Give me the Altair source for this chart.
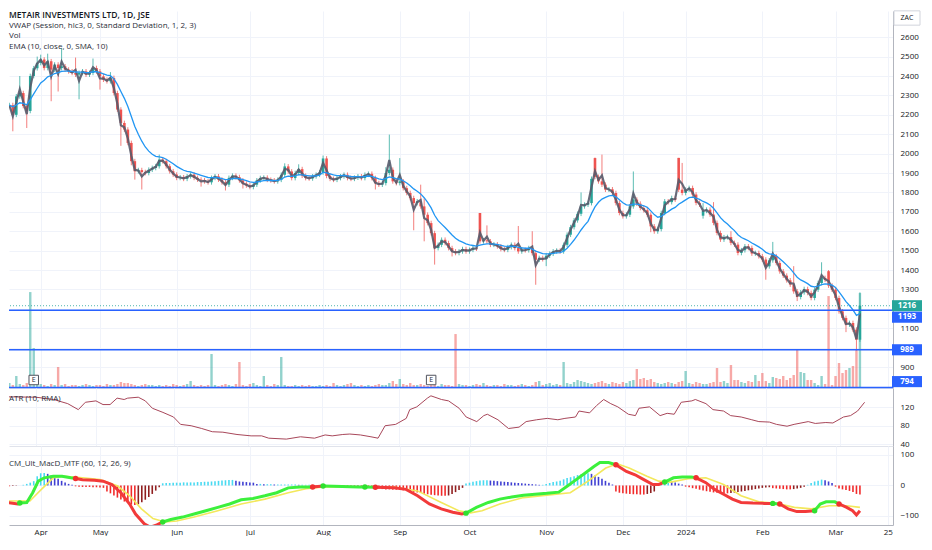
import altair as alt
import pandas as pd

# ---------------- data ----------------
closes = [
    2250, 2200, 2295, 2312, 2245, 2220, 2400, 2440, 2467, 2485,
    2441, 2476, 2433, 2459, 2441, 2450, 2433, 2424, 2416, 2407,
    2416, 2424, 2407, 2416, 2441, 2424, 2398, 2381, 2373, 2390,
    2312, 2227, 2158, 2124, 2055, 1961, 1909, 1915, 1905, 1900,
    1917, 1926, 1935, 1969, 1961, 1935, 1909, 1892, 1875, 1878,
    1870, 1883, 1892, 1875, 1866, 1863, 1857, 1852, 1875, 1883,
    1866, 1852, 1840, 1875, 1886, 1879, 1862, 1845, 1836, 1828,
    1840, 1862, 1874, 1876, 1865, 1862, 1857, 1865, 1891, 1934,
    1908, 1874, 1900, 1920, 1886, 1874, 1872, 1883, 1891, 1903,
    1975, 1885, 1870, 1865, 1874, 1883, 1891, 1874, 1870, 1876,
    1883, 1874, 1891, 1896, 1874, 1848, 1840, 1848, 1900, 1917,
    1857, 1848, 1857, 1822, 1797, 1771, 1745, 1754, 1728, 1685,
    1642, 1590, 1513, 1530, 1556, 1539, 1513, 1496, 1488, 1496,
    1508, 1496, 1504, 1513, 1510, 1548, 1553, 1548, 1530, 1532,
    1522, 1508, 1504, 1518, 1530, 1513, 1496, 1504, 1502, 1513,
    1487, 1453, 1462, 1456, 1474, 1484, 1496, 1500, 1496, 1530,
    1582, 1621, 1656, 1690, 1728, 1737, 1745, 1870, 1880, 1857,
    1840, 1814, 1816, 1797, 1745, 1694, 1677, 1685, 1728, 1763,
    1742, 1720, 1708, 1685, 1625, 1599, 1611, 1694, 1754, 1750,
    1771, 1763, 1814, 1797, 1814, 1823, 1789, 1746, 1737, 1705,
    1711, 1686, 1643, 1591, 1557, 1569, 1570, 1540, 1531, 1488,
    1502, 1522, 1514, 1485, 1488, 1471, 1454, 1419, 1450, 1471,
    1436, 1393, 1371, 1347, 1325, 1290, 1261, 1285, 1302, 1282,
    1256, 1299, 1333, 1359, 1350, 1320, 1299, 1256, 1187, 1153,
    1119, 1127, 1093, 1041, 1216,
]
open_gaps = {135: 1694, 168: 1977, 192: 1978, 199: 1680, 235: 1394}
high_marks = {3: 2400, 8: 2500, 9: 2510, 11: 2515, 15: 2545, 19: 2495, 24: 2490,
              29: 2420, 43: 1995, 79: 1950, 83: 1945, 90: 1990, 108: 1930,
              109: 2098, 112: 1977, 118: 1840, 119: 1770, 135: 1694, 137: 1630,
              146: 1627, 150: 1600, 164: 1800, 168: 1980, 170: 1995, 179: 1908,
              192: 1978, 193: 1952, 199: 1745, 202: 1750, 207: 1600, 219: 1545,
              225: 1420, 233: 1440, 235: 1400, 244: 1285}
low_marks = {1: 2115, 5: 2132, 12: 2270, 14: 2320, 20: 2280, 26: 2330, 32: 2040,
             35: 1940, 36: 1866, 38: 1815, 55: 1830, 62: 1810, 67: 1820,
             105: 1815, 116: 1605, 119: 1548, 122: 1428, 127: 1470, 151: 1324,
             154: 1420, 184: 1595, 199: 1665, 217: 1350, 226: 1240, 240: 1080,
             243: 985, 244: 1030}
wick_pad = 12
volume_k = [
    5, 3, 12, 4, 3, 5, 96, 40, 6, 4, 3, 2, 4, 3, 21, 3, 4, 2, 3, 3, 2, 3, 4, 3, 2, 3,
    3, 2, 4, 3, 3, 4, 6, 5, 5, 4, 3, 2, 3, 4, 3,
    3, 2, 3, 2, 3, 2, 4, 3, 2, 3, 4, 7, 3, 2, 3, 2, 3,
    34,
    3, 2, 3, 4, 3, 2, 4,
    26,
    3, 2, 4, 5, 3, 2,
    12,
    3, 2, 4, 3,
    31,
    3, 2, 2, 3, 2, 3, 2, 3, 2, 2, 3, 2,
    3, 2, 5, 3, 2, 3, 4, 5, 3, 2, 3, 2, 3, 2, 3, 4, 3, 3, 5, 7, 4, 9, 4, 3, 5, 3, 3, 4, 3, 2, 3, 3, 2, 4, 3, 3, 2,
    54,
    4, 3, 3, 2, 3, 4, 3, 5, 3, 2, 3, 3, 2, 4, 3, 3, 2, 3, 4, 3, 2, 3, 6, 7, 3, 4, 5, 3, 4, 3,
    26,
    5, 4, 6, 8, 7, 6, 5, 4, 5, 6, 7, 5, 4, 6, 5, 4,
    6, 5, 7, 8, 19, 9, 10, 8, 9, 6, 5, 4, 5, 6, 5, 4, 6, 7, 17, 5, 4, 6, 5, 4,
    4, 5, 6, 20, 6, 7, 5, 23, 8, 8, 6, 5, 7, 6, 13, 7, 15, 7, 5, 11, 10, 9, 12, 8, 10,
    13, 38, 16, 15, 8, 8, 5, 3, 12, 4, 92, 3, 12, 25, 15, 18, 20, 22, 38, 95,
]
earnings_idx = [7, 121]
level_lines = [1193, 989, 794]
last_price = 1216

atr_idx = [-1, 9, 14, 18, 21, 23, 26, 28, 30, 32, 34, 35, 38, 40, 42, 45, 48, 50, 53, 56,
           59, 62, 66, 70, 73, 75, 80, 84, 88, 91, 93, 96, 98, 101, 104, 106, 108, 111, 114, 115,
           117, 120, 121, 124, 126, 129, 131, 134, 136, 137, 140, 143, 146, 148, 151, 154, 157, 159, 162, 163,
           166, 168, 170, 172, 174, 177, 179, 180, 183, 186, 188, 190, 192, 195, 196, 199, 201, 204, 206, 209,
           212, 214, 217, 219, 222, 224, 228, 230, 233, 235, 238, 240, 242, 244]
atr_val = [143, 142, 137, 128, 115, 131, 134, 126, 126, 140, 137, 140, 142, 134, 118, 109, 99, 83, 80, 74,
           67, 66, 61, 58, 58, 53, 51, 56, 53, 60, 58, 61, 62, 60, 56, 53, 80, 83, 96, 115,
           121, 140, 145, 137, 134, 118, 99, 89, 102, 105, 93, 74, 77, 89, 93, 96, 93, 96, 99, 112,
           108, 124, 137, 128, 121, 105, 102, 118, 121, 102, 107, 105, 131, 134, 137, 128, 115, 112, 102, 99,
           93, 89, 88, 83, 79, 83, 89, 85, 87, 86, 99, 102, 112, 131]

macd_idx = [-0.9, 2.4, 5, 6.7, 8.3, 10, 12.6, 15.1, 17.6, 21, 24.4, 26.9, 29.4, 32, 34.5,
            36.2, 38.7, 40.4, 42.1, 46.3, 49.7, 53, 56.4, 59.8, 63.2, 66.5, 69.9, 73.3, 76.7, 80,
            83.4, 93, 100.3, 110.4, 113.8, 117.1, 120.5, 123.9, 127.2, 129.8, 134, 137.4, 140.7, 144.1, 147.5,
            150.8, 154.2, 157.6, 160.1, 162.6, 165.2, 167.7, 169.4, 171.9, 177, 179.5, 182, 184.6, 186.3, 190.5,
            193, 195.6, 199.8, 202.3, 204.9, 207.4, 209.9, 213.3, 216.6, 223.4, 225.9, 228.4, 232.6, 234.3, 236.8,
            240.2, 241.9, 243, 244]
macd_val = [-56, -61, -56, -24, 14, 25, 30, 30, 25, 19, 17, 14, 3, -24, -61,
            -94, -126, -137, -131, -112, -104, -94, -83, -72, -61, -47, -43, -34, -24, -8,
            -5, -3, -5, -8, -13, -34, -61, -77, -88, -94, -72, -56, -45, -38, -32,
            -29, -26, -22, -2, 19, 41, 62, 75, 75, 46, 35, 19, 3, 3, 25,
            28, 28, 9, -13, -29, -45, -56, -58, -59, -77, -86, -86, -61, -54, -54,
            -72, -83, -97, -83]
signal_idx = [-0.9, 5.9, 9.2, 12.6, 15.9, 21, 26, 31.1, 34.5, 37.9, 41.2, 44.6, 48, 53, 59.8,
              66.5, 73.3, 80, 85.1, 90.2, 100.3, 110.4, 117.1, 123.9, 128.9, 132.3, 135.6, 140.7, 147.5, 154.2,
              160.9, 166, 171.1, 174.4, 177.8, 182.9, 186.3, 189.7, 194.7, 199.8, 204.9, 209.9, 215, 220.1, 225.2,
              230.1, 235.2, 240.2, 244]
signal_val = [-51, -51, -13, 25, 30, 25, 19, -2, -34, -77, -109, -120, -117, -104, -83,
              -61, -45, -24, -11, -5, -5, -5, -18, -56, -83, -90, -83, -61, -40, -32,
              -24, 14, 57, 71, 57, 30, 14, 11, 22, 25, 3, -34, -54, -59, -72,
              -77, -67, -67, -72]
cross_idx = [3, 19, 44, 87, 90, 102, 105, 131, 174, 188, 197, 219, 221, 231, 238]
cross_val = [-58, 23, -120, -5, -2, -5, -6, -91, 68, 11, 25, -59, -61, -83, -61]
cross_dir = ["up", "down", "up", "down", "up", "up", "down", "up", "down", "up", "down", "up", "down", "up", "down"]
hist = [
    -3, -2, -1, 0, 2, 5, 9, 14,
    30, 40, 41, 38, 33, 27, 22, 15, 10, 5, 2,
    -3, -4, -5, -5, -5, -6, -6, -7, -8,
    -20, -26, -33, -40, -46, -53, -58, -63, -64, -62, -55, -47, -38, -28, -17, -6,
    7, 8, 8, 9, 9, 9, 10, 10, 10,
    10, 11, 11, 12, 12, 13, 14, 15,
    16, 17, 18, 18,
    15, 13, 12, 11, 10, 9,
    5, 5, 4, 4, 4, 3, 3, 3, 3, 3, 3, 3, 2, 2, 2, 2, 1,
    -3, -4, -4, -4, -5, -5, -5, -4, -4, -5, -5, -6,
    -5, -6, -6, -7, -8, -9,
    -10, -12, -13, -13, -14, -14, -15, -16, -17, -19, -21, -23, -25, -27, -29, -31, -32, -33, -34, -34, -33, -28, -22, -15, -8,
    6, 9, 12, 14, 16, 17, 17, 16, 15, 14, 13, 12, 11, 10, 9, 8, 7, 6, 5, 4,
    3, 2, 2,
    5, 8, 11, 13, 15, 20, 24, 27, 30, 34, 37, 39, 40, 38, 33, 28, 22, 15, 9, 3,
    -20, -24, -26, -27, -28, -29, -29, -30, -30, -28, -25,
    -20,
    8, 12, 14, 14, 12, 10, 6, 3,
    -4, -6, -9, -11, -14, -17, -19, -21, -23, -24, -25, -26, -26, -25, -24, -22, -20,
    -18, -16, -14, -12, -10, -8, -7, -6,
    -9, -10, -11, -12, -13, -13, -12, -10, -8,
    -4, 2, 8, 13, 15, 19, 17, 13, 8,
    -4, -10, -13, -15, -18, -22, -28, -30,
]
month_idx = [9, 26, 48, 69, 90, 112, 132, 154, 176, 194, 216, 237, 252]
month_lbl = ["Apr", "May", "Jun", "Jul", "Aug", "Sep", "Oct", "Nov", "Dec", "2024", "Feb", "Mar", "25"]
price_ticks = list(range(900, 2700, 100))
hidden_price_labels = [1200, 1000]  # covered by the price tags in the reference

# ---------------- styles ----------------
UP, DOWN, BLUE = "#26a69a", "#ef5350", "#2962ff"
FONT = "Open Sans"
GRID = "#f0f3fa"
W = 884
XDOM = [1.34, 252.05]
TAGX = 898

n = len(closes)
opens = [closes[0]] + closes[:-1]
for k, v in open_gaps.items():
    opens[k] = v
highs, lows = [], []
for i in range(n):
    top, bot = max(opens[i], closes[i]), min(opens[i], closes[i])
    highs.append(max(high_marks.get(i, top + wick_pad), top))
    lows.append(min(low_marks.get(i, bot - wick_pad), bot))

df = pd.DataFrame({"i": list(range(n)), "open": opens, "close": closes,
                   "high": highs, "low": lows, "vol": volume_k[:n]})
df["dir"] = ["up" if c >= o else "down" for o, c in zip(df.open, df.close)]
df["hlc3"] = (df.high + df.low + df.close) / 3
df["ema"] = df.close.ewm(span=10, adjust=False).mean()

xscale = alt.Scale(domain=XDOM, nice=False, zero=False)
x_top_axis = alt.Axis(values=month_idx, labels=False, ticks=False, grid=True, gridColor=GRID,
                      domain=True, domainColor="#e0e3eb", title=None)
label_expr = "[" + ",".join("'%s'" % m for m in month_lbl) + "][indexof([" + ",".join(str(v) for v in month_idx) + "], datum.value)]"
x_bottom_axis = alt.Axis(values=month_idx, labelExpr=label_expr, ticks=False, grid=True, gridColor=GRID,
                         domain=True, domainColor="#b2b5be", title=None, labelFont=FONT, labelFontSize=8,
                         labelColor="#131722", labelPadding=3, labelFlush=False, labelOverlap=False)


def yaxis(vals, hide=None):
    kw = {}
    if hide:
        kw["labelExpr"] = "indexof([" + ",".join(str(h) for h in hide) + "], datum.value) >= 0 ? '' : datum.label"
    return alt.Axis(orient="right", values=vals, format="d", labelOverlap=False, grid=True, gridColor=GRID,
                    ticks=False, domain=True, domainColor="#b2b5be", labelColor="#131722", labelFont=FONT,
                    labelFontSize=8, labelPadding=7, title=None, **kw)


price_axis = yaxis(price_ticks, hidden_price_labels)
dir_color = alt.Color("dir:N", scale=alt.Scale(domain=["up", "down"], range=[UP, DOWN]), legend=None)
py = alt.Scale(domain=[792, 2735], nice=False, zero=False)
X = alt.X("i:Q", scale=xscale, axis=x_top_axis)


def PY(field):
    return alt.Y(field, scale=py, axis=price_axis)


base = alt.Chart(df)
vol_layer = base.mark_bar(size=2.4, opacity=0.5, clip=True).encode(
    x=X, y=alt.Y("vol:Q", scale=alt.Scale(domain=[0, max(volume_k) * 3.93], nice=False), axis=None),
    color=dir_color)

wicks = base.mark_rule(strokeWidth=1, opacity=0.75, clip=True).encode(
    x=X, y=PY("low:Q"), y2="high:Q", color=dir_color)
bodies = base.mark_bar(size=2.6, clip=True).encode(
    x=X, y=PY("open:Q"), y2="close:Q", color=dir_color)
vwap = base.mark_line(color="#585b6b", strokeWidth=2.2, opacity=0.9, clip=True).encode(
    x=X, y=PY("hlc3:Q"))
ema = base.mark_line(color="#2196f3", strokeWidth=1.3, clip=True).encode(
    x=X, y=PY("ema:Q"))
levels = alt.Chart(pd.DataFrame({"lvl": level_lines})).mark_rule(color=BLUE, strokeWidth=1.5).encode(
    y=PY("lvl:Q"))
last_line = alt.Chart(pd.DataFrame({"lvl": [last_price]})).mark_rule(
    color=UP, strokeWidth=1, strokeDash=[1, 2], opacity=0.8).encode(y=PY("lvl:Q"))

tag_path = "M-1,-0.37 L1,-0.37 L1,0.37 L-1,0.37 Z"
tags = []
for val, col, dy in [(last_price, UP, 0), (level_lines[0], BLUE, 7), (level_lines[1], BLUE, 0), (level_lines[2], BLUE, -6)]:
    tdf = pd.DataFrame({"p": [val], "lab": [str(val)]})
    tags.append(alt.Chart(tdf).mark_point(shape=tag_path, filled=True, size=900, color=col, opacity=1,
                                          yOffset=dy).encode(x=alt.value(TAGX), y=PY("p:Q")))
    tags.append(alt.Chart(tdf).mark_text(color="white", font=FONT, fontSize=8, fontWeight="bold",
                                         yOffset=dy).encode(x=alt.value(TAGX), y=PY("p:Q"), text="lab:N"))

zac_box = alt.Chart(pd.DataFrame({"t": ["ZAC"]})).mark_point(
    shape="M-1,-0.55 L1,-0.55 L1,0.55 L-1,0.55 Z", size=676, filled=False, color="#d1d4dc", strokeWidth=1,
    opacity=1).encode(x=alt.value(TAGX), y=alt.value(7))
zac_txt = alt.Chart(pd.DataFrame({"t": ["ZAC"]})).mark_text(font=FONT, fontSize=7, color="#131722").encode(
    x=alt.value(TAGX), y=alt.value(7), text="t:N")

legend_lines = ["METAIR INVESTMENTS LTD, 1D, JSE",
                "VWAP (Session, hlc3, 0, Standard Deviation, 1, 2, 3)",
                "Vol",
                "EMA (10, close, 0, SMA, 10)"]
legend_marks = []
for k, (txt, yy) in enumerate(zip(legend_lines, [4, 15, 25, 36])):
    legend_marks.append(alt.Chart(pd.DataFrame({"t": [txt]})).mark_text(
        font=FONT, fontSize=8.5 if k == 0 else 8, fontWeight=600 if k == 0 else 400,
        color="#131722" if k == 0 else "#2a2e39", align="left", baseline="middle").encode(
        x=alt.value(0), y=alt.value(yy), text="t:N"))

edf = pd.DataFrame({"i": earnings_idx, "t": ["E"] * len(earnings_idx)})
e_box = alt.Chart(edf).mark_point(shape="square", size=90, filled=True, fill="white", stroke="#50535e",
                                  strokeWidth=1, opacity=1).encode(x=X, y=alt.value(369))
e_txt = alt.Chart(edf).mark_text(font=FONT, fontSize=7, color="#2a2e39").encode(x=X, y=alt.value(369), text="t:N")

price_layers = alt.layer(wicks, bodies, vwap, ema, levels, last_line, e_box, e_txt, zac_box, zac_txt,
                         *tags, *legend_marks)
price_panel = alt.layer(vol_layer, price_layers).resolve_scale(y="independent").properties(width=W, height=377)

# ---------------- ATR pane ----------------
atr_df = pd.DataFrame({"i": atr_idx, "v": atr_val})
atr_line = alt.Chart(atr_df).mark_line(color="#a8475a", strokeWidth=1, clip=True).encode(
    x=X, y=alt.Y("v:Q", scale=alt.Scale(domain=[36, 162], nice=False, zero=False), axis=yaxis([40, 80, 120])))
atr_title = alt.Chart(pd.DataFrame({"t": ["ATR (10, RMA)"]})).mark_text(
    font=FONT, fontSize=8, color="#2a2e39", align="left").encode(x=alt.value(0), y=alt.value(11), text="t:N")
atr_panel = alt.layer(atr_line, atr_title).properties(width=W, height=58)

# ---------------- MACD pane ----------------
XB = alt.X("i:Q", scale=xscale, axis=x_bottom_axis)
my = alt.Scale(domain=[-130, 129.5], nice=False, zero=False)
macd_axis = yaxis([-100, 0, 100])


def MY(field):
    return alt.Y(field, scale=my, axis=macd_axis)


hcol = []
for k, h in enumerate(hist):
    prev = hist[k - 1] if k > 0 else 0
    if h >= 0:
        hcol.append("#3fd8f0" if h >= prev else "#3535d0")
    else:
        hcol.append("#f02020" if h <= prev else "#8a1414")
hdf = pd.DataFrame({"i": list(range(len(hist))), "h": hist, "c": hcol})
hist_bars = alt.Chart(hdf).mark_bar(size=1.6, opacity=0.95, clip=True).encode(
    x=XB, y=MY("h:Q"), y2=alt.datum(0), color=alt.Color("c:N", scale=None))

sig_line = alt.Chart(pd.DataFrame({"i": signal_idx, "v": signal_val})).mark_line(
    color="#f3e85c", strokeWidth=1.6, clip=True).encode(x=XB, y=MY("v:Q"))

GREEN_L, RED_L = "#3cf03c", "#f23a3a"
pts = [(a, b, None) for a, b in zip(macd_idx, macd_val)] + \
      [(a, b, d) for a, b, d in zip(cross_idx, cross_val, cross_dir)]
pts.sort(key=lambda p: p[0])
state = "down" if cross_dir[0] == "up" else "up"
seg = 0
rows = []
for a, b, d in pts:
    rows.append({"i": a, "v": b, "seg": seg, "c": GREEN_L if state == "up" else RED_L})
    if d is not None:
        seg += 1
        state = d
        rows.append({"i": a, "v": b, "seg": seg, "c": GREEN_L if state == "up" else RED_L})
macd_line = alt.Chart(pd.DataFrame(rows)).mark_line(strokeWidth=3, clip=True).encode(
    x=XB, y=MY("v:Q"), color=alt.Color("c:N", scale=None), detail="seg:N")
cdf = pd.DataFrame({"i": cross_idx, "v": cross_val,
                    "c": ["#2fe02f" if d == "up" else "#f03030" for d in cross_dir]})
dots = alt.Chart(cdf).mark_circle(size=30, opacity=1).encode(
    x=XB, y=MY("v:Q"), color=alt.Color("c:N", scale=None))
macd_title = alt.Chart(pd.DataFrame({"t": ["CM_Ult_MacD_MTF (60, 12, 26, 9)"]})).mark_text(
    font=FONT, fontSize=8, color="#2a2e39", align="left").encode(x=alt.value(0), y=alt.value(18), text="t:N")
macd_panel = alt.layer(hist_bars, sig_line, macd_line, dots, macd_title).properties(width=W, height=79)

chart = alt.vconcat(price_panel, atr_panel, macd_panel, spacing=0, bounds="flush").properties(
    padding=0, background="white").configure_view(stroke=None).configure_axis(labelOverlap=False)

chart.save("out.html", embed_options={"renderer": "svg", "actions": False})
